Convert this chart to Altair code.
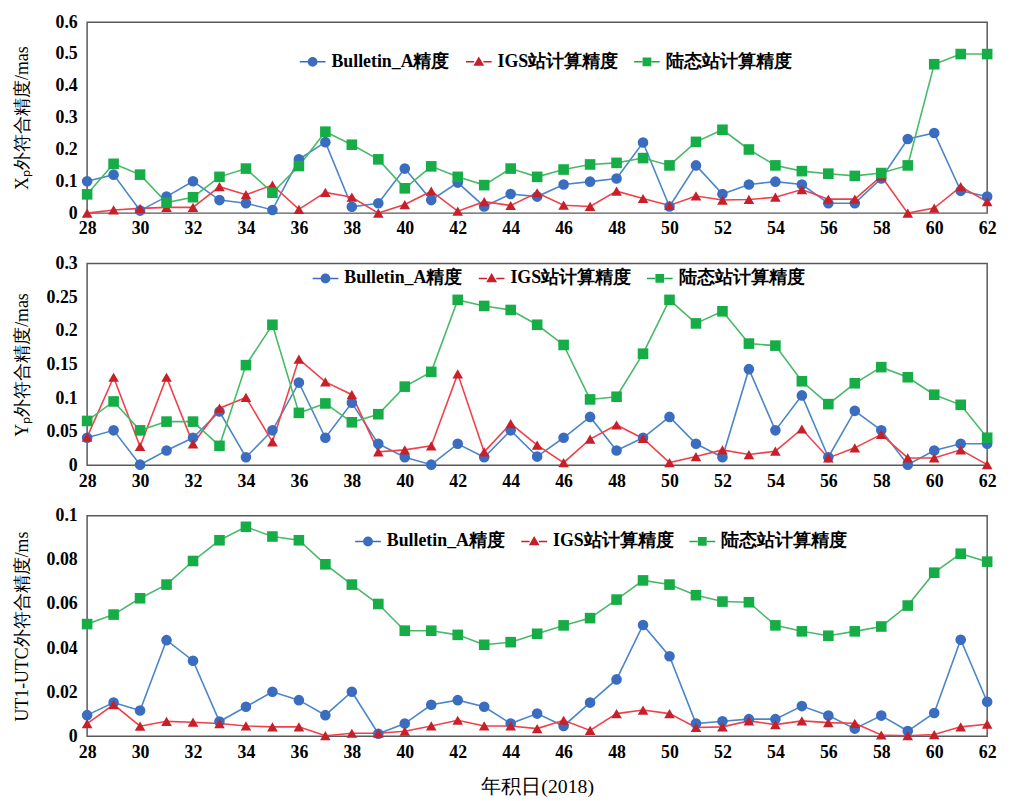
import altair as alt
import pandas as pd

days = list(range(28, 63))
series_names = ["Bulletin_A精度", "IGS站计算精度", "陆态站计算精度"]

# Panel 1: Xp (mas)
xp_bulletin = [0.100, 0.121, 0.008, 0.052, 0.100, 0.041, 0.031, 0.010, 0.169, 0.223,
               0.020, 0.031, 0.140, 0.041, 0.096, 0.021, 0.060, 0.052, 0.090, 0.099,
               0.109, 0.222, 0.021, 0.150, 0.060, 0.090, 0.099, 0.090, 0.031, 0.031,
               0.109, 0.233, 0.252, 0.070, 0.052]
xp_igs = [0.000, 0.010, 0.015, 0.018, 0.018, 0.083, 0.058, 0.088, 0.012, 0.065,
          0.050, 0.000, 0.027, 0.069, 0.006, 0.036, 0.024, 0.064, 0.025, 0.021,
          0.069, 0.046, 0.024, 0.054, 0.041, 0.043, 0.050, 0.074, 0.044, 0.044,
          0.116, 0.000, 0.016, 0.083, 0.036]
xp_land = [0.059, 0.155, 0.121, 0.033, 0.050, 0.114, 0.140, 0.064, 0.148, 0.256,
           0.215, 0.169, 0.078, 0.147, 0.114, 0.088, 0.140, 0.114, 0.137, 0.153,
           0.158, 0.173, 0.150, 0.224, 0.262, 0.200, 0.150, 0.132, 0.124, 0.117,
           0.126, 0.150, 0.468, 0.500, 0.500]

# Panel 2: Yp (mas)
yp_bulletin = [0.041, 0.052, 0.001, 0.022, 0.041, 0.080, 0.012, 0.052, 0.123, 0.041,
               0.093, 0.032, 0.012, 0.001, 0.032, 0.012, 0.052, 0.013, 0.041, 0.072,
               0.022, 0.041, 0.072, 0.032, 0.012, 0.143, 0.052, 0.104, 0.012, 0.081,
               0.052, 0.001, 0.022, 0.032, 0.032]
yp_igs = [0.042, 0.131, 0.028, 0.131, 0.032, 0.085, 0.101, 0.035, 0.158, 0.124,
          0.105, 0.020, 0.023, 0.029, 0.136, 0.020, 0.062, 0.030, 0.004, 0.039,
          0.060, 0.040, 0.004, 0.013, 0.023, 0.016, 0.021, 0.054, 0.011, 0.026,
          0.046, 0.011, 0.011, 0.023, 0.001]
yp_land = [0.066, 0.095, 0.052, 0.065, 0.065, 0.029, 0.149, 0.209, 0.078, 0.092,
           0.064, 0.076, 0.117, 0.139, 0.246, 0.237, 0.231, 0.209, 0.179, 0.098,
           0.102, 0.166, 0.246, 0.211, 0.229, 0.181, 0.178, 0.125, 0.091, 0.122,
           0.146, 0.131, 0.105, 0.090, 0.041]

# Panel 3: UT1-UTC (ms)
ut_bulletin = [0.0096, 0.0153, 0.0117, 0.0436, 0.0343, 0.0067, 0.0134, 0.0202, 0.0164, 0.0096,
               0.0202, 0.0012, 0.0058, 0.0143, 0.0164, 0.0134, 0.0058, 0.0103, 0.0047, 0.0153,
               0.0258, 0.0505, 0.0363, 0.0058, 0.0068, 0.0078, 0.0078, 0.0137, 0.0094, 0.0035,
               0.0094, 0.0024, 0.0106, 0.0438, 0.0157]
ut_igs = [0.0058, 0.0144, 0.0046, 0.0068, 0.0064, 0.0058, 0.0047, 0.0043, 0.0043, 0.0003,
          0.0014, 0.0014, 0.0023, 0.0047, 0.0073, 0.0047, 0.0047, 0.0035, 0.0073, 0.0027,
          0.0103, 0.0119, 0.0103, 0.0040, 0.0043, 0.0070, 0.0053, 0.0070, 0.0062, 0.0059,
          0.0006, 0.0003, 0.0008, 0.0043, 0.0055]
ut_land = [0.0509, 0.0552, 0.0626, 0.0688, 0.0795, 0.0889, 0.0950, 0.0906, 0.0889, 0.0780,
           0.0688, 0.0600, 0.0479, 0.0479, 0.0460, 0.0415, 0.0427, 0.0465, 0.0503, 0.0536,
           0.0620, 0.0707, 0.0688, 0.0640, 0.0611, 0.0608, 0.0503, 0.0476, 0.0456, 0.0476,
           0.0498, 0.0593, 0.0742, 0.0828, 0.0792]

x_ticks = list(range(28, 63, 2))
line_colors = ["#4a86c8", "#f0414b", "#48b968"]
marker_colors = ["#3a6cc0", "#c8202a", "#16ad47"]
shapes = ["circle", "triangle-up", "square"]

SERIF = "Liberation Serif"

# legend glyphs: short line with the marker in the middle
seg = "M-1,-0.06L-0.36,-0.06L-0.36,0.06L-1,0.06Z M0.36,-0.06L1,-0.06L1,0.06L0.36,0.06Z "
legend_paths = [
    seg + "M0.38,0A0.38,0.38 0 1,1 -0.38,0A0.38,0.38 0 1,1 0.38,0Z",
    seg + "M0,-0.42L0.42,0.3L-0.42,0.3Z",
    seg + "M-0.34,-0.34L0.34,-0.34L0.34,0.34L-0.34,0.34Z",
]


def make_df(a, b, c):
    rows = []
    for name, vals in zip(series_names, [a, b, c]):
        for d, v in zip(days, vals):
            rows.append({"day": d, "value": v, "series": name})
    return pd.DataFrame(rows)


def panel(df, ytitle, ymax, ystep, height, lx, ly, xtitle=None):
    n = int(round(ymax / ystep))
    yvals = [round(i * ystep, 4) for i in range(n + 1)]
    xaxis_kw = dict(values=x_ticks, ticks=False, domain=False, grid=False,
                    labelFont=SERIF, labelFontSize=18, labelFontWeight="bold",
                    labelColor="black", labelPadding=7, labelFlush=False)
    if xtitle:
        xaxis = alt.Axis(title=xtitle, titleFont=SERIF, titleFontSize=20,
                         titleFontWeight="normal", titleColor="black", titlePadding=16,
                         **xaxis_kw)
    else:
        xaxis = alt.Axis(title=None, **xaxis_kw)
    yaxis = alt.Axis(title=ytitle, values=yvals, format="~g", ticks=False, domain=False,
                     grid=False, labelFont=SERIF, labelFontSize=18, labelFontWeight="bold",
                     labelColor="black", labelPadding=10, titleFont=SERIF, titleFontSize=18,
                     titleFontWeight="normal", titleColor="black", titleX=-65,
                     titleY=height / 2, titleAngle=270, titleAlign="center",
                     titleBaseline="middle")
    x = alt.X("day:Q", scale=alt.Scale(domain=[28, 62], nice=False, zero=False), axis=xaxis)
    y = alt.Y("value:Q", scale=alt.Scale(domain=[0, ymax], nice=False), axis=yaxis)
    base = alt.Chart(df)
    layers = []
    for name, lc in zip(series_names, line_colors):
        layers.append(
            base.transform_filter(alt.datum.series == name)
            .mark_line(strokeWidth=1.6, color=lc)
            .encode(x=x, y=y)
        )
    for name, col, shp in zip(series_names, marker_colors, shapes):
        layers.append(
            base.transform_filter(alt.datum.series == name)
            .mark_point(filled=True, size=115, opacity=1, shape=shp, color=col)
            .encode(x=x, y=y)
        )
    legend = alt.Legend(
        title=None, orient="none", legendX=lx, legendY=ly, direction="horizontal",
        symbolSize=676, symbolOpacity=1, symbolStrokeWidth=0, labelFont=SERIF,
        labelFontSize=18, labelFontWeight="bold", labelColor="black",
        columnPadding=16, labelOffset=6,
    )
    # legend-only layer: no rows pass the filter, the legend comes from the fixed domain
    leg = base.transform_filter(alt.datum.day < 0).mark_point(filled=True).encode(
        x=x, y=y,
        fill=alt.Fill("series:N", scale=alt.Scale(domain=series_names, range=marker_colors),
                      legend=legend),
        shape=alt.Shape("series:N", scale=alt.Scale(domain=series_names, range=legend_paths),
                        legend=legend),
    )
    layers.append(leg)
    return alt.layer(*layers).properties(width=910, height=height)


p1 = panel(make_df(xp_bulletin, xp_igs, xp_land), "Xₚ外符合精度/mas", 0.6, 0.1, 193, 215, 27)
p2 = panel(make_df(yp_bulletin, yp_igs, yp_land), "Yₚ外符合精度/mas", 0.3, 0.05, 204, 228, 2)
p3 = panel(make_df(ut_bulletin, ut_igs, ut_land), "UT1-UTC外符合精度/ms", 0.1, 0.02, 223, 271, 13,
           xtitle="年积日(2018)")

chart = alt.vconcat(p1, p2, p3, spacing=15).resolve_scale(
    x="independent", y="independent", fill="independent", shape="independent"
).resolve_legend(fill="independent", shape="independent").properties(
    padding={"left": 5, "top": 0, "right": 5, "bottom": 0}, background="white"
).configure_view(stroke="#595959", strokeWidth=1.5)

chart.save("out.html", embed_options={"renderer": "svg", "actions": False})
